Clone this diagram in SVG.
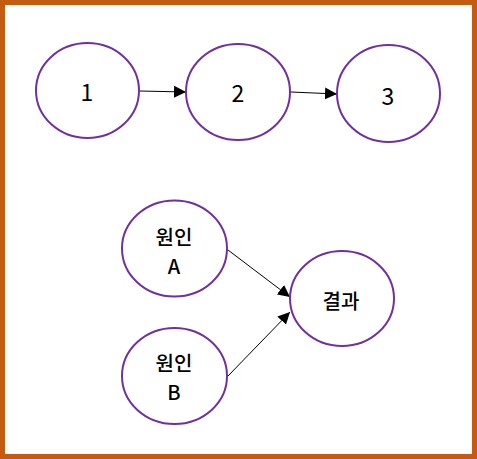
<svg xmlns="http://www.w3.org/2000/svg" width="477" height="459" viewBox="0 0 477 459">
<style>
.n{fill:#fff;stroke:#7030A0;stroke-width:2}
.t{font-family:"Noto Sans CJK KR","Noto Sans",sans-serif;font-size:20px;font-weight:500;fill:#000;text-anchor:middle;dominant-baseline:central}
.d{font-size:23px;font-weight:400}
.c{stroke:#000;stroke-width:1;fill:none;marker-end:url(#ah)}
</style>
<defs>
<marker id="ah" viewBox="0 0 10 10" refX="10" refY="5" markerWidth="12" markerHeight="12" markerUnits="userSpaceOnUse" orient="auto">
<path d="M0,0 L10,5 L0,10 Z" fill="#000"/>
</marker>
</defs>
<rect x="2.5" y="2.5" width="472" height="454" fill="#fff" stroke="#C55A11" stroke-width="5"/>
<g id="connectors">
<line class="c" x1="140" y1="91" x2="186" y2="92"/>
<line class="c" x1="291" y1="92" x2="337" y2="94"/>
<line class="c" x1="228" y1="250" x2="290" y2="297"/>
<line class="c" x1="228" y1="376" x2="290" y2="312"/>
</g>
<g id="n1"><ellipse class="n" cx="87.5" cy="90.5" rx="51.5" ry="47.5"/><text class="t d" x="87" y="91">1</text></g>
<g id="n2"><ellipse class="n" cx="238" cy="92" rx="52" ry="48"/><text class="t d" x="238" y="92">2</text></g>
<g id="n3"><ellipse class="n" cx="388.5" cy="93.5" rx="51.5" ry="48.5"/><text class="t d" x="388" y="95">3</text></g>
<g id="nA"><ellipse class="n" cx="174.5" cy="248.5" rx="52.5" ry="48"/><text class="t" x="174" y="236">원인</text><text class="t" x="174" y="265">A</text></g>
<g id="nB"><ellipse class="n" cx="174.5" cy="376" rx="52.5" ry="48"/><text class="t" x="174" y="362">원인</text><text class="t" x="174" y="391">B</text></g>
<g id="nR"><ellipse class="n" cx="342" cy="298.5" rx="52" ry="47.5"/><text class="t" x="341" y="300">결과</text></g>
</svg>
